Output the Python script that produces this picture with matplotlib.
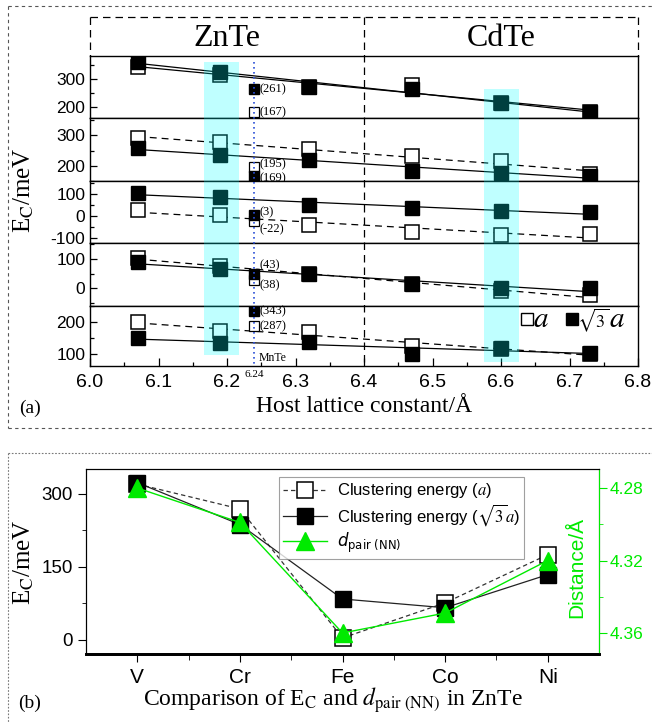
import matplotlib.pyplot as plt
import numpy as np
from matplotlib.lines import Line2D
from matplotlib.patches import Rectangle
from matplotlib.ticker import MultipleLocator, FixedLocator
from matplotlib.transforms import blended_transform_factory

plt.rcParams['font.family'] = ['Liberation Sans', 'DejaVu Sans']
plt.rcParams['mathtext.fontset'] = 'stix'
plt.rcParams['axes.unicode_minus'] = False
SERIF = 'Liberation Serif'

# host lattice constants (Å) used in panel (a)
lattice = [6.07, 6.19, 6.32, 6.47, 6.60, 6.73]
elements = ['V', 'Cr', 'Fe', 'Co', 'Ni']

# clustering energy (meV): pair at distance a (open) and sqrt(3)a (filled)
v_a = [343, 316, 270, 279, 214, 182]
v_s3a = [361, 325, 272, 265, 214, 182]
cr_a = [290, 277, 255, 233, 215, 172]
cr_s3a = [257, 237, 220, 183, 175, 168]
fe_a = [25, 5, -40, -71, -84, -80]
fe_s3a = [104, 84, 49, 36, 22, 18]
co_a = [103, 76, 50, 14, -10, -24]
co_s3a = [90, 66, 48, 14, 3, 0]
ni_a = [200, 172, 169, 125, 115, 100]
ni_s3a = [150, 134, 137, 100, 119, 103]

# MnTe host (6.24 Å): printed values and where the marks sit on each row
mnte_x = 6.24
mnte_s3a_lbl = [261, 169, 3, 43, 343]
mnte_a_lbl = [167, 195, -22, 38, 287]
mnte_s3a = [264, 167, 3, 50, 234]   # Ni row uses a broken scale
mnte_a = [182, 197, -22, 30, 187]

# panel (b): ZnTe host
b_a = [320, 269, 4, 76, 175]
b_s3a = [323, 237, 84, 66, 134]
b_dist = [4.280, 4.299, 4.360, 4.349, 4.320]

open_rows = [v_a, cr_a, fe_a, co_a, ni_a]
fill_rows = [v_s3a, cr_s3a, fe_s3a, co_s3a, ni_s3a]

W, H = 652, 722
fx = lambda px: px / W
fy = lambda py: 1 - py / H

fig = plt.figure(figsize=(W / 100, H / 100), dpi=100)

# ---------------- panel (a) ----------------
row_px = [56, 118, 181, 243, 306, 366]
row_ylim = [(161, 382), (150, 357), (-122, 158), (-60, 155), (62, 250)]
lbl_y = [0.71, 0.70, 0.645, 0.46, 0.47]
lbl_dy = [(0, 0), (-2, 2), (2, -6), (6, -4), (0, 0)]
dash = (0, (5.5, 4))
L, R = 90, 638

axes = []
for i in range(5):
    top, bot = row_px[i], row_px[i + 1]
    ax = fig.add_axes([fx(L), fy(bot), fx(R) - fx(L), fy(top) - fy(bot)])
    ax.set_xlim(6.0, 6.8)
    ax.set_ylim(*row_ylim[i])
    xs = np.array([lattice[0], lattice[-1]])
    ls_open = '-' if i == 0 else dash
    for ys, ls in [(open_rows[i], ls_open), (fill_rows[i], '-')]:
        c = np.polyfit(lattice, ys, 1)
        ax.plot(xs, np.polyval(c, xs), color='black', lw=0.9, ls=ls, zorder=2)
    ax.plot(lattice, open_rows[i], 's', ms=10, mfc='white', mec='black', mew=1.1, zorder=3)
    ax.plot(lattice, fill_rows[i], 's', ms=10, mfc='black', mec='black', zorder=4)
    # MnTe points
    ax.plot([mnte_x], [mnte_a[i]], 's', ms=6.5, mfc='white', mec='black', mew=0.9, zorder=5)
    ax.plot([mnte_x], [mnte_s3a[i]], 's', ms=6.5, mfc='black', mec='black', zorder=5)
    for val, lab, dy in [(mnte_s3a[i], mnte_s3a_lbl[i], lbl_dy[i][0]),
                         (mnte_a[i], mnte_a_lbl[i], lbl_dy[i][1])]:
        ax.annotate('(%d)' % lab, (mnte_x, val), xytext=(4, dy), textcoords='offset points',
                    va='center', ha='left', fontsize=9, family=SERIF, zorder=6)
    ax.text(6.03, lbl_y[i], elements[i], transform=ax.get_yaxis_transform(),
            ha='center', va='center', fontsize=13)
    ax.yaxis.set_major_locator(MultipleLocator(100))
    ax.yaxis.set_minor_locator(MultipleLocator(50))
    ax.tick_params(axis='y', which='both', direction='in', labelsize=12.5, length=5, width=0.9)
    ax.tick_params(axis='y', which='minor', length=3)
    ax.xaxis.set_major_locator(MultipleLocator(0.1))
    ax.xaxis.set_minor_locator(MultipleLocator(0.05))
    if i < 4:
        ax.tick_params(axis='x', which='both', bottom=False, labelbottom=False)
    else:
        ax.tick_params(axis='x', which='both', direction='in', labelsize=14, length=6, width=0.9, pad=6)
        ax.tick_params(axis='x', which='minor', length=3)
    for s in ax.spines.values():
        s.set_linewidth(1.0)
    axes.append(ax)

axn = axes[-1]
xt = axn.get_xaxis_transform()
# legend of panel (a)
axn.plot([6.638], [0.78], 's', ms=8.5, mfc='white', mec='black', mew=1, transform=xt, clip_on=False)
axn.text(6.647, 0.78, '$a$', transform=xt, fontsize=21, va='center')
axn.plot([6.704], [0.78], 's', ms=8.5, mfc='black', mec='black', transform=xt, clip_on=False)
axn.text(6.711, 0.76, r'$\sqrt{3}$', transform=xt, fontsize=13, va='center')
axn.text(6.757, 0.78, '$a$', transform=xt, fontsize=21, va='center')

bt = blended_transform_factory(axn.transData, fig.transFigure)
# highlighted host bands
for (x0, x1), (ytop, ybot) in [((6.166, 6.217), (62, 355)), ((6.575, 6.626), (89, 362))]:
    fig.add_artist(Rectangle((x0, fy(ybot)), x1 - x0, fy(ytop) - fy(ybot), transform=bt,
                             facecolor='cyan', edgecolor='none', alpha=0.25, zorder=10))
# MnTe reference line
fig.add_artist(Line2D([mnte_x, mnte_x], [fy(62), fy(366)], transform=bt, color='#2a4fd6',
                      ls=(0, (1, 2)), lw=1.2, zorder=3))
fig.text(mnte_x, fy(374), '6.24', transform=bt, ha='center', va='center', fontsize=8, family=SERIF)
fig.text(mnte_x + 0.006, fy(358), 'MnTe', transform=bt, ha='left', va='center', fontsize=8.5, family=SERIF)

# frame lines
def fline(xp, yp, **kw):
    fig.add_artist(Line2D([fx(v) for v in xp], [fy(v) for v in yp], transform=fig.transFigure, **kw))

outer = dict(color='#555555', lw=0.8, ls=(0, (3, 3)))
fline([8, 652], [6, 6], **outer)
fline([8, 8], [6, 428], **outer)
fline([8, 652], [428, 428], **outer)
inner = dict(color='black', lw=0.9, ls=(0, (6, 4)))
fline([L, R], [17, 17], **inner)
fline([L, L], [17, 56], **inner)
fline([R, R], [17, 56], **inner)
fline([364, 364], [17, 366], **inner)

fig.text(fx(227), fy(39), 'ZnTe', ha='center', va='center', fontsize=23, family=SERIF)
fig.text(fx(501), fy(39), 'CdTe', ha='center', va='center', fontsize=23, family=SERIF)
fig.text(fx(24), fy(190), r'E$_\mathrm{C}$/meV', rotation=90, ha='center', va='center',
         fontsize=18, family=SERIF)
fig.text(fx(364), fy(407), 'Host lattice constant/Å', ha='center', va='center', fontsize=17, family=SERIF)
fig.text(fx(30), fy(408), '(a)', ha='center', va='center', fontsize=14, family=SERIF)

# ---------------- panel (b) ----------------
fline([8, 652], [453, 453], color='#777777', lw=0.8, ls=(0, (1.5, 1.5)))
fline([8, 8], [453, 722], color='#777777', lw=0.8, ls=(0, (1.5, 1.5)))

axb = fig.add_axes([fx(86), fy(654), fx(599) - fx(86), fy(469) - fy(654)])
xb = np.arange(len(elements))
h1, = axb.plot(xb, b_a, color='#333333', lw=0.9, ls=(0, (3.5, 2.5)), marker='s', ms=11,
               mfc='white', mec='black', mew=1.1, label='Clustering energy ($a$)')
h2, = axb.plot(xb, b_s3a, color='#222222', lw=0.9, marker='s', ms=11, mfc='black', mec='black',
               label=r'Clustering energy ($\sqrt{3}a$)')
axb.set_xlim(-0.5, 4.5)
axb.set_ylim(-29, 351)
axb.set_xticks(xb)
axb.set_xticklabels(elements)
axb.xaxis.set_minor_locator(FixedLocator([0.5, 1.5, 2.5, 3.5]))
axb.yaxis.set_major_locator(FixedLocator([0, 150, 300]))
axb.yaxis.set_minor_locator(FixedLocator([75, 225]))
axb.tick_params(axis='x', which='major', labelsize=15, length=6, direction='out', pad=4)
axb.tick_params(axis='x', which='minor', length=4, direction='out')
axb.tick_params(axis='y', which='major', labelsize=13.5, length=6, direction='out')
axb.tick_params(axis='y', which='minor', length=3, direction='out')
axb.spines['bottom'].set_linewidth(2)

green = '#00ea00'
ax2 = axb.twinx()
h3, = ax2.plot(xb, b_dist, color=green, lw=1, marker='^', ms=13, mfc=green, mec=green,
               label=r'$d_{\mathrm{pair\ (NN)}}$')
ax2.set_ylim(4.3716, 4.2695)
ax2.yaxis.set_major_locator(FixedLocator([4.28, 4.32, 4.36]))
ax2.yaxis.set_minor_locator(FixedLocator([4.30, 4.34]))
ax2.tick_params(axis='y', which='major', labelsize=12.5, length=6, colors=green, direction='out', pad=1.5)
ax2.tick_params(axis='y', which='minor', length=3, colors=green, direction='out')
ax2.spines['right'].set_color(green)
ax2.spines['bottom'].set_linewidth(2)

leg = ax2.legend(handles=[h1, h2, h3], loc='upper left', bbox_to_anchor=(0.36, 1.0),
                 fontsize=12, frameon=True, fancybox=False, edgecolor='#888888',
                 handlelength=2.6, borderpad=0.25, labelspacing=0.12, handletextpad=0.6)
leg.get_frame().set_linewidth(0.8)
for t in leg.get_texts()[2:]:
    t.set_math_fontfamily('dejavusans')

fig.text(fx(24), fy(562), r'E$_\mathrm{C}$/meV', rotation=90, ha='center', va='center',
         fontsize=18, family=SERIF)
fig.text(fx(577), fy(567), 'Distance/Å', rotation=90, ha='center', va='center',
         fontsize=15, color=green)
fig.text(fx(333), fy(700), r'Comparison of E$_\mathrm{C}$ and $d_{\mathrm{pair\ (NN)}}$ in ZnTe',
         ha='center', va='center', fontsize=17, family=SERIF)
fig.text(fx(30), fy(703), '(b)', ha='center', va='center', fontsize=14, family=SERIF)

fig.savefig('out.png', dpi=100)
